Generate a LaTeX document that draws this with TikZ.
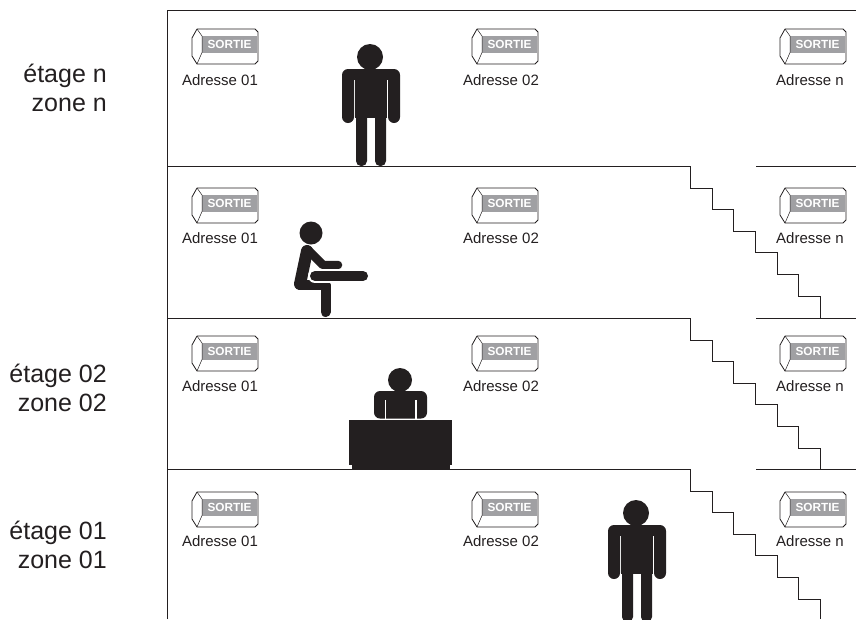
\documentclass[tikz,border=0pt]{standalone}
\usepackage{fontspec}
\setmainfont{Liberation Sans}
\definecolor{ink}{HTML}{231F20}
\definecolor{signgray}{HTML}{A0A0A3}
\tikzset{
  x=1pt,y=-1pt,
  floorline/.style={draw=ink,line width=1pt},
  sidelabel/.style={anchor=east,align=right,font=\fontsize{25}{29.5}\selectfont,text=ink,inner sep=0pt},
  addr/.style={anchor=center,font=\fontsize{15}{17}\selectfont,text=ink,inner sep=0pt},
  pics/exitsign/.style={code={
    \draw[ink,line width=.8pt,line join=round,fill=white] (0,9)--(5,0)--(63,0)--(66,3)--(66,32)--(63,35)--(5,35)--(0,27)--cycle;
    \fill[signgray] (10,7) rectangle (65,23.5);
    \draw[ink,line width=.5pt] (5,0)--(10,7)--(10,23.5)--(5,35);
    \node[inner sep=0pt,text=white,font=\bfseries\fontsize{11.8}{13}\selectfont] at (37.5,15.5) {SORTIE};
  }},
  pics/standing/.style={code={
    \fill[ink] (28,13) circle (13);
    \fill[ink,rounded corners=6pt] (0,25) rectangle (12,79);
    \fill[ink,rounded corners=6pt] (46,25) rectangle (58,79);
    \fill[ink] (6,25) rectangle (52,36);
    \fill[ink] (13.3,25) rectangle (44.7,74);
    \fill[ink,rounded corners=5pt] (14,60) rectangle (25,122);
    \fill[ink,rounded corners=5pt] (33,60) rectangle (44,122);
  }},
}
\begin{document}
\begin{tikzpicture}
\useasboundingbox (0,0) rectangle (856,619);
% building
\draw[floorline] (167,619)--(167,10)--(856,10);
\coordinate (s1) at (690,166);
\coordinate (s2) at (690,318);
\coordinate (s3) at (690,469);
\foreach \s/\y in {s1/166,s2/318,s3/469}{
  \draw[floorline] (167,\y)--(\s);
  \draw[floorline] (756,\y)--(856,\y);
  \begin{scope}[shift={(\s)}]
  \draw[floorline] (0,0)--(0,22)--(22,22)--(22,43)--(43,43)--(43,65)--(65,65)--(65,86)--(87,86)--(87,108)--(108,108)--(108,130)--(130,130)--(130,\ifnum\y=469 150\else 152\fi);
  \end{scope}
}
% signs
\foreach \y in {29,188,336,492}{
  \pic at (192,\y) {exitsign};
  \pic at (472,\y) {exitsign};
  \pic at (780,\y) {exitsign};
}
\node[addr] (a11) at (220,80) {Adresse 01};
\node[addr] (a12) at (501,80) {Adresse 02};
\node[addr] (a1n) at (810,80) {Adresse n};
\node[addr] (a21) at (220,238) {Adresse 01};
\node[addr] (a22) at (501,238) {Adresse 02};
\node[addr] (a2n) at (810,238) {Adresse n};
\node[addr] (a31) at (220,386) {Adresse 01};
\node[addr] (a32) at (501,386) {Adresse 02};
\node[addr] (a3n) at (810,386) {Adresse n};
\node[addr] (a41) at (220,541) {Adresse 01};
\node[addr] (a42) at (501,541) {Adresse 02};
\node[addr] (a4n) at (810,541) {Adresse n};
% side labels
\node[sidelabel] (l1) at (107,88) {étage n\\zone n};
\node[sidelabel] (l2) at (107,388) {étage 02\\zone 02};
\node[sidelabel] (l3) at (107,545) {étage 01\\zone 01};
% people
\pic at (342,44) {standing};
\pic at (608,500) {standing};
% sitting person
\fill[ink] (311,233) circle (11.5);
\draw[ink,line width=12pt,line cap=round,line join=round] (307,251)--(300,284);
\draw[ink,line width=10pt,line cap=round,line join=round] (300,285)--(325.5,285)--(325.5,312);
\draw[ink,line width=8.5pt,line cap=round,line join=round] (308,250)--(323,265)--(338,265);
\draw[white,line width=14pt,line cap=round] (315,276)--(363,276);
\draw[ink,line width=10pt,line cap=round] (315,276)--(363,276);
% desk person
\fill[ink] (400,380) circle (12);
\fill[ink,rounded corners=6pt] (374,418.5)--(374,391)--(427,391)--(427,418.5)--cycle;
\fill[white] (384.5,400) rectangle (386,419);
\fill[white] (414.6,400) rectangle (416.6,419);
\fill[ink] (349,420) rectangle (452,465);
\fill[ink] (352,465) rectangle (450,469);
\end{tikzpicture}
\end{document}
